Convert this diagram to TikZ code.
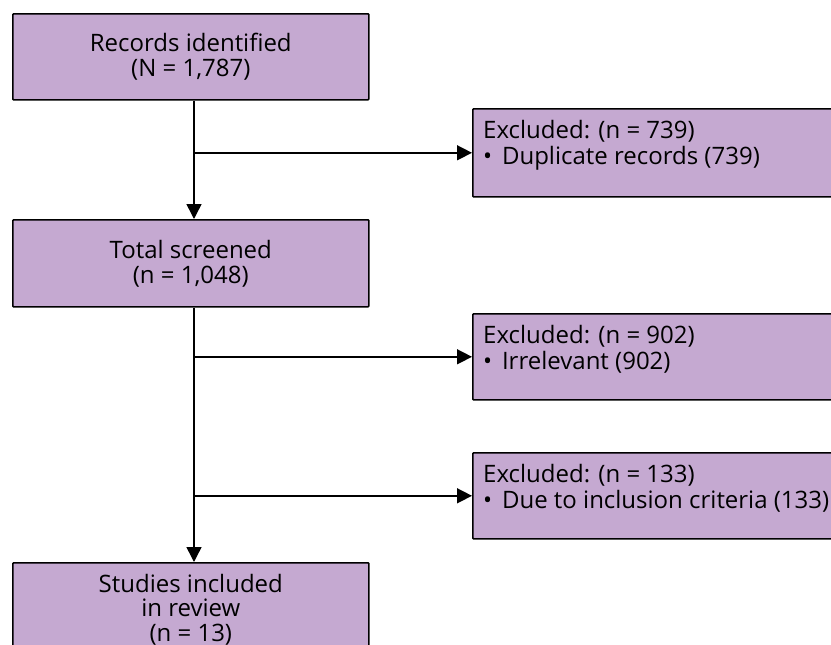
\documentclass[tikz,border=0pt]{standalone}
\usepackage{fontspec}
\setmainfont{Open Sans}
\usetikzlibrary{arrows.meta}
\definecolor{boxfill}{RGB}{197,169,209}
\begin{document}
\begin{tikzpicture}[x=1pt,y=-1pt,
  box/.style={draw=black, line width=1.6pt, fill=boxfill, rounded corners=0.8pt, inner sep=0pt, anchor=north west},
  maintxt/.style={font=\fontsize{24}{25}\selectfont, inner sep=0pt, align=center},
  sidetxt/.style={font=\fontsize{24}{26}\selectfont, inner sep=0pt, align=left, anchor=north west},
  conn/.style={line width=1.5pt, -{Triangle[length=15pt,width=15pt]}}]
\useasboundingbox (0,0) rectangle (831,645);
\clip (0,0) rectangle (831,645);
\fill[white] (0,0) rectangle (831,645);
% main column boxes
\node[box, minimum width=356pt, minimum height=86pt] (b1) at (12,13) {};
\node[box, minimum width=356pt, minimum height=87pt] (b2) at (12,219) {};
\node[box, minimum width=356pt, minimum height=120pt] (b3) at (12,562) {};
\node[maintxt] (t1) at (b1.center) {Records identified\\(N = 1,787)};
\node[maintxt] (t2) at (b2.center) {Total screened\\(n = 1,048)};
\node[maintxt, font=\fontsize{24}{24.5}\selectfont, anchor=north] (t3) at ([yshift=-12pt]b3.north) {Studies included\\in review\\(n = 13)};
% side boxes
\node[box, minimum width=400pt, minimum height=88pt] (r1) at (472,108) {};
\node[box, minimum width=400pt, minimum height=86pt] (r2) at (472,313) {};
\node[box, minimum width=400pt, minimum height=86pt] (r3) at (472,452) {};
\node[sidetxt] (s1) at ([xshift=11pt,yshift=-12pt]r1.north west) {Excluded: (n = 739)\\•\hspace{0.15em} Duplicate records (739)};
\node[sidetxt] (s2) at ([xshift=11pt,yshift=-12pt]r2.north west) {Excluded: (n = 902)\\•\hspace{0.15em} Irrelevant (902)};
\node[sidetxt] (s3) at ([xshift=11pt,yshift=-12pt]r3.north west) {Excluded: (n = 133)\\•\hspace{0.15em} Due to inclusion criteria (133)};
% connectors
\coordinate (trunk) at (194,0);
\draw[conn] (b1.south -| trunk) -- (b2.north -| trunk);
\draw[conn] (trunk |- r1.west) -- (r1.west);
\draw[conn] (b2.south -| trunk) -- (b3.north -| trunk);
\draw[conn] (trunk |- r2.west) -- (r2.west);
\draw[conn] (trunk |- r3.west) -- (r3.west);
\end{tikzpicture}
\end{document}
